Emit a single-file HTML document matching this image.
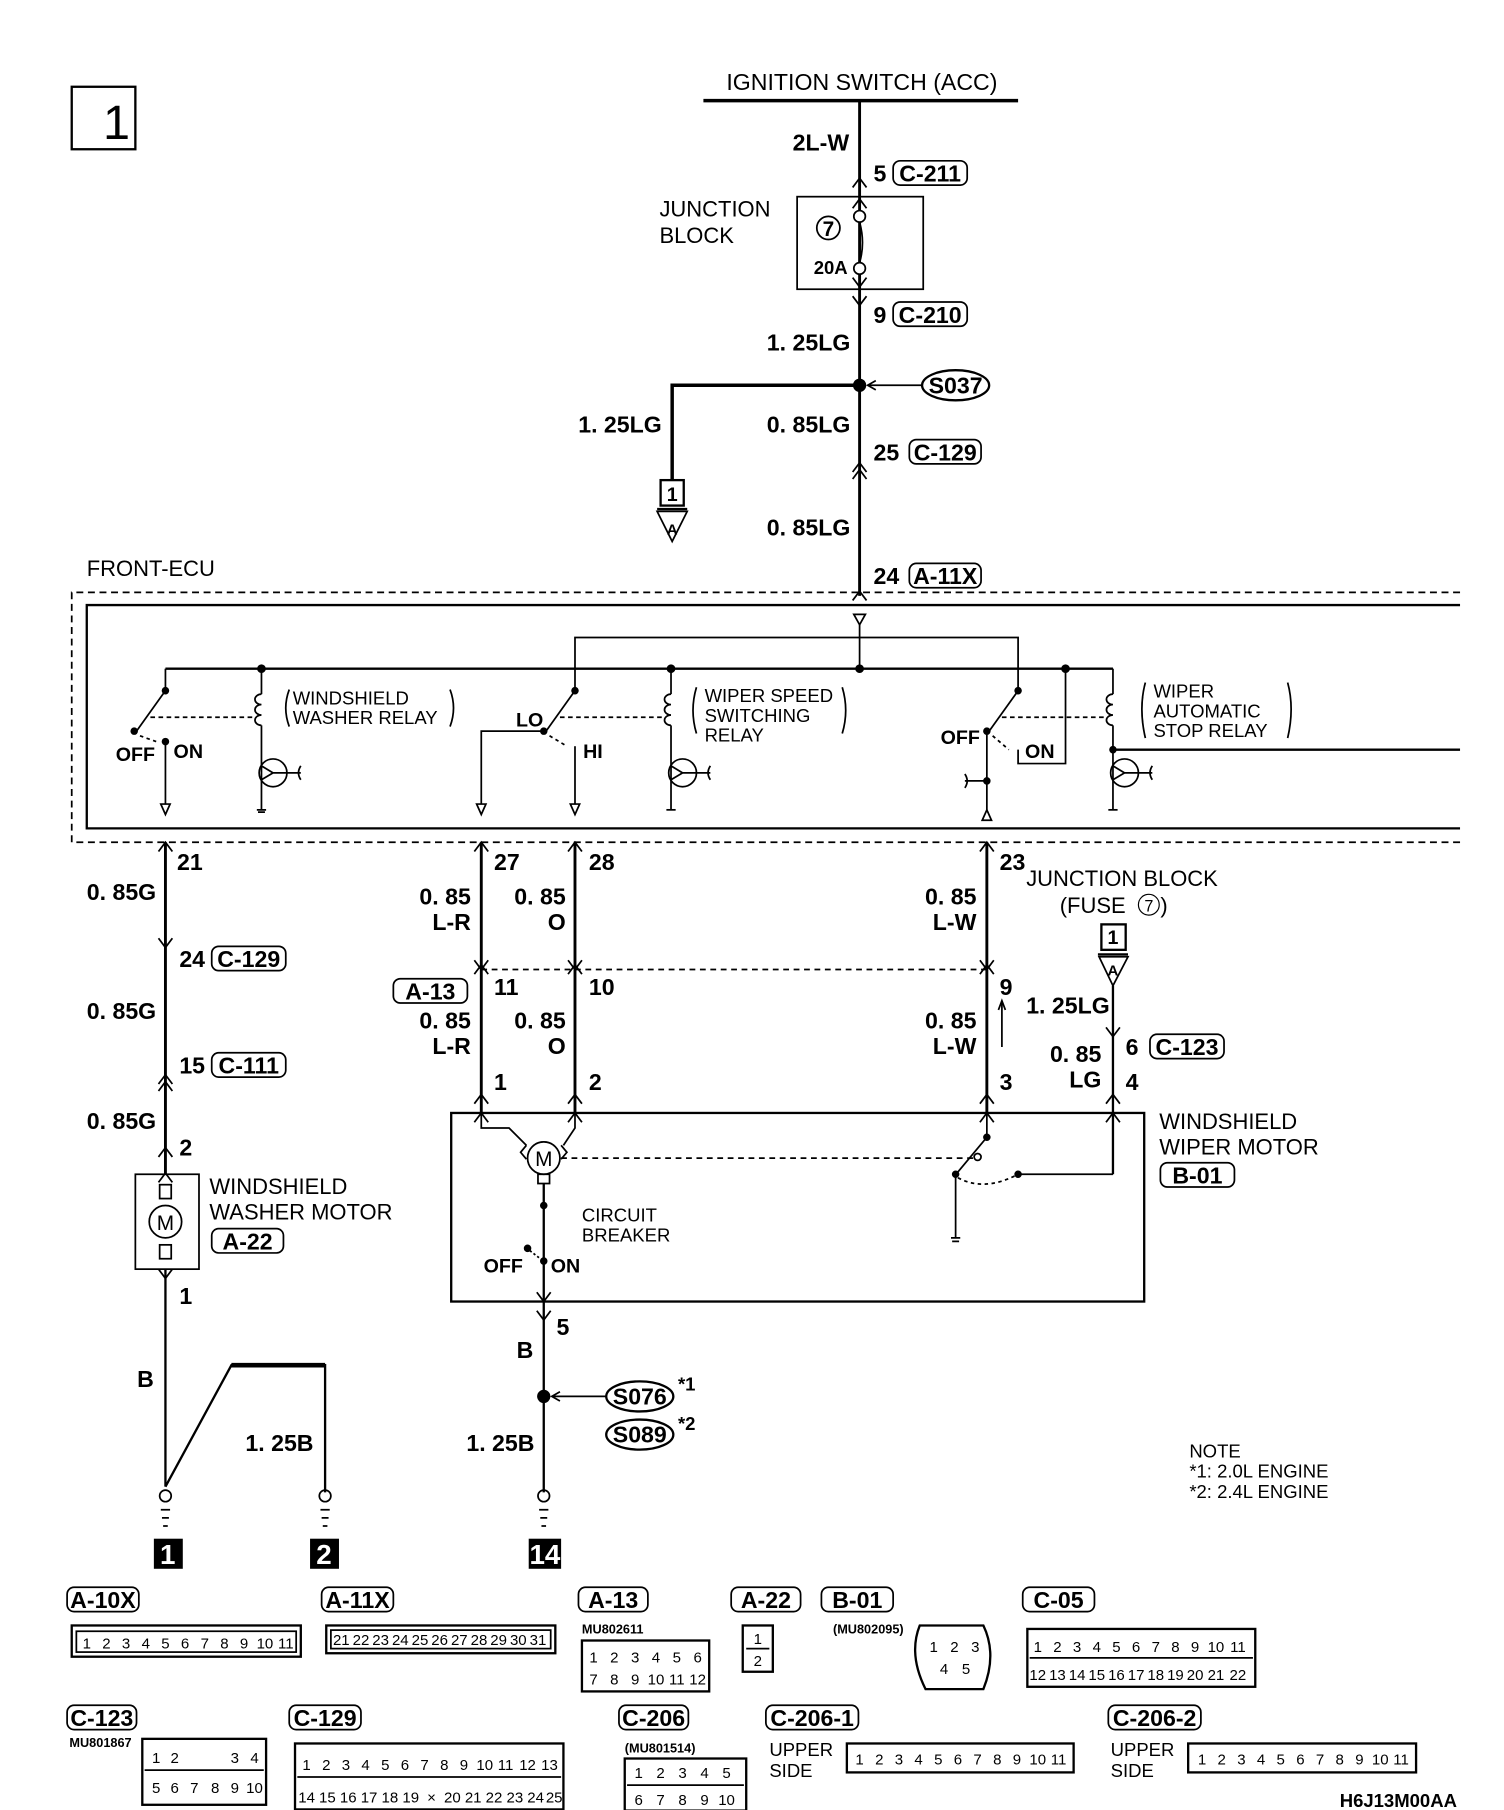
<!DOCTYPE html>
<html><head><meta charset="utf-8"><style>
html,body{margin:0;padding:0;background:#fff;}
svg{display:block;}
text{font-family:"Liberation Sans Narrow","Liberation Sans",sans-serif;fill:#000;}
.b{font-weight:bold;}
</style></head><body>
<svg width="1504" height="1810" viewBox="0 0 1300 1564.5" preserveAspectRatio="none" xmlns="http://www.w3.org/2000/svg">
<g fill="none" stroke="#000" stroke-width="1.5">
<rect x="62" y="75" width="55" height="54" stroke-width="2"/>
<line x1="608" y1="87" x2="880" y2="87" stroke-width="3"/>
<line x1="743" y1="87" x2="743" y2="515" stroke-width="2.5"/>
<rect x="689" y="170" width="109" height="80"/>
<circle cx="743" cy="187" r="5" fill="#fff"/>
<circle cx="743" cy="232" r="5" fill="#fff"/>
<path d="M743 192 Q748 210 743 227"/>
<circle cx="716" cy="197" r="10"/>
<polyline points="737,162 743,154 749,162"/>
<polyline points="737,180 743,172 749,180"/>
<polyline points="737,256 743,264 749,256"/>
<polyline points="737,240 743,248 749,240"/>
<polyline points="737,408 743,400 749,408"/>
<polyline points="737,414 743,406 749,414"/>
<polyline points="737,519 743,511 749,519"/>
<polyline points="743,333 581,333 581,415" stroke-width="3"/>
<circle cx="743" cy="333" r="5" fill="#000"/>
<line x1="750" y1="333" x2="797" y2="333"/>
<polyline points="757,329 750,333 757,337"/>
<ellipse cx="826" cy="333" rx="29" ry="13" stroke-width="2"/>
<rect x="571" y="415" width="20" height="22" stroke-width="2"/>
<polygon points="568,442 594,442 581,468"/>
<line x1="568" y1="440" x2="594" y2="440" stroke-width="2"/>
<polyline points="1262,512 62,512 62,728 1262,728" stroke-dasharray="6,4"/>
<polyline points="1262,523 75,523 75,716 1262,716" stroke-width="2"/>
<polygon points="738,531 748,531 743,540"/>
<line x1="743" y1="540" x2="743" y2="578"/>
<line x1="143" y1="578" x2="962" y2="578" stroke-width="2"/>
<polyline points="497,597 497,551 880,551 880,597" stroke-width="1.5"/>
<circle cx="226" cy="578" r="3" fill="#000"/><circle cx="743" cy="578" r="3" fill="#000"/><circle cx="580" cy="578" r="3" fill="#000"/><circle cx="921" cy="578" r="3" fill="#000"/>
<line x1="143" y1="578" x2="143" y2="597"/>
<circle cx="143" cy="597" r="2.5" fill="#000"/>
<line x1="143" y1="597" x2="118" y2="632"/>
<circle cx="116" cy="632" r="2.5" fill="#000"/>
<circle cx="143" cy="641" r="2.5" fill="#000"/>
<path d="M121 636 L135 641" stroke-dasharray="3,3"/>
<line x1="143" y1="641" x2="143" y2="695"/>
<polygon points="139,695 147,695 143,704"/>
<line x1="130" y1="620" x2="220" y2="620" stroke-dasharray="4,3"/>
<line x1="226" y1="578" x2="226" y2="600"/>
<path d="M226 600 a5 4 0 0 0 0 9 a5 4 0 0 0 0 9 a5 4 0 0 0 0 9 M226 627 L226 650"/>
<circle cx="236" cy="668" r="12"/>
<path d="M226 650 L226 700 M226 662 L236 668 L226 674 M236 668 L260 668 M260 662 Q256 668 260 674"/>
<path d="M222 700 L230 700 M223 702 L229 702"/>
<path d="M250 596 Q244 612 250 628 M389 596 Q395 612 389 628"/>
<circle cx="497" cy="597" r="2.5" fill="#000"/>
<line x1="497" y1="597" x2="472" y2="632"/>
<circle cx="470" cy="632" r="2.5" fill="#000"/>
<polyline points="470,632 416,632 416,695"/>
<polygon points="412,695 420,695 416,704"/>
<path d="M475 636 L490 645" stroke-dasharray="3,3"/>
<line x1="497" y1="645" x2="497" y2="695"/>
<polygon points="493,695 501,695 497,704"/>
<line x1="484" y1="620" x2="574" y2="620" stroke-dasharray="4,3"/>
<line x1="580" y1="578" x2="580" y2="600"/>
<path d="M580 600 a5 4 0 0 0 0 9 a5 4 0 0 0 0 9 a5 4 0 0 0 0 9 M580 627 L580 650"/>
<circle cx="590" cy="668" r="12"/>
<path d="M580 650 L580 700 M580 662 L590 668 L580 674 M590 668 L614 668 M614 662 Q610 668 614 674"/>
<path d="M576 700 L584 700"/>
<path d="M602 594 Q596 614 602 634 M728 594 Q734 614 728 634"/>
<circle cx="880" cy="597" r="2.5" fill="#000"/>
<line x1="880" y1="597" x2="855" y2="632"/>
<circle cx="853" cy="632" r="2.5" fill="#000"/>
<path d="M858 636 L872 648" stroke-dasharray="3,3"/>
<polyline points="880,648 880,660 921,660 921,578"/>
<line x1="853" y1="632" x2="853" y2="700"/>
<circle cx="853" cy="675" r="2.5" fill="#000"/>
<path d="M853 675 L834 675 M834 669 Q838 675 834 681"/>
<polygon points="849,709 857,709 853,700"/>
<line x1="866" y1="620" x2="956" y2="620" stroke-dasharray="4,3"/>
<line x1="962" y1="578" x2="962" y2="600"/>
<path d="M962 600 a5 4 0 0 0 0 9 a5 4 0 0 0 0 9 a5 4 0 0 0 0 9 M962 627 L962 650"/>
<circle cx="962" cy="648" r="2.5" fill="#000"/>
<line x1="962" y1="648" x2="1262" y2="648" stroke-width="2"/>
<circle cx="972" cy="668" r="12"/>
<path d="M962 650 L962 700 M962 662 L972 668 L962 674 M972 668 L996 668 M996 662 Q992 668 996 674"/>
<path d="M958 700 L966 700"/>
<path d="M990 590 Q984 612 990 638 M1113 590 Q1119 612 1113 638"/>
<line x1="143" y1="728" x2="143" y2="1015" stroke-width="2.5"/>
<line x1="416" y1="728" x2="416" y2="962" stroke-width="2.5"/>
<line x1="497" y1="728" x2="497" y2="962" stroke-width="2.5"/>
<line x1="853" y1="728" x2="853" y2="962" stroke-width="2.5"/>
<g>
<polyline points="137,736 143,728 149,736"/><polyline points="410,736 416,728 422,736"/><polyline points="491,736 497,728 503,736"/><polyline points="847,736 853,728 859,736"/>
<polyline points="137,811 143,819 149,811"/>
<polyline points="137,937 143,929 149,937"/><polyline points="137,943 143,935 149,943"/>
<polyline points="410,830 416,838 422,830"/><polyline points="410,842 416,834 422,842"/>
<polyline points="491,830 497,838 503,830"/><polyline points="491,842 497,834 503,842"/>
<polyline points="847,830 853,838 859,830"/><polyline points="847,842 853,834 859,842"/>
<polyline points="137,1000 143,992 149,1000"/><polyline points="137,1022 143,1014 149,1022"/>
<polyline points="410,970 416,962 422,970"/><polyline points="491,970 497,962 503,970"/><polyline points="847,970 853,962 859,970"/><polyline points="956,970 962,962 968,970"/>
<polyline points="410,954 416,946 422,954"/><polyline points="491,954 497,946 503,954"/><polyline points="847,954 853,946 859,954"/><polyline points="956,954 962,946 968,954"/>
<polyline points="956,888 962,896 968,888"/>
<polyline points="137,1097 143,1105 149,1097"/>
<polyline points="464,1117 470,1125 476,1117"/><polyline points="464,1133 470,1141 476,1133"/>
</g>
<line x1="416" y1="838" x2="853" y2="838" stroke-dasharray="5,4"/>
<line x1="866" y1="905" x2="866" y2="866"/>
<polyline points="863,873 866,865 869,873"/>
<rect x="952" y="799" width="21" height="22" stroke-width="2"/>
<line x1="949" y1="825" x2="975" y2="825" stroke-width="2"/>
<polygon points="950,827 975,827 962,852"/>
<line x1="962" y1="852" x2="962" y2="1015" stroke-width="2"/>
<rect x="117" y="1015" width="55" height="82"/>
<rect x="138" y="1024" width="10" height="12"/>
<rect x="138" y="1076" width="10" height="12"/>
<circle cx="143" cy="1056" r="14"/>
<line x1="143" y1="1097" x2="143" y2="1285" stroke-width="2"/>
<polyline points="143,1285 200,1180 281,1180 281,1290" stroke-width="2"/>
<line x1="200" y1="1180" x2="281" y2="1180" stroke-width="4"/>
<rect x="390" y="962" width="599" height="163" stroke-width="2"/>
<polyline points="416,962 416,975 440,975 455,990"/>
<polyline points="497,962 497,975 487,990"/>
<path d="M455 990 l-5 6 l5 6 M485 990 l5 6 l-5 6"/>
<circle cx="470" cy="1001" r="14"/>
<rect x="465" y="1015" width="10" height="8"/>
<line x1="485" y1="1001" x2="845" y2="1001" stroke-dasharray="5,4"/>
<line x1="853" y1="962" x2="853" y2="983"/>
<circle cx="853" cy="983" r="2.5" fill="#000"/>
<line x1="853" y1="983" x2="828" y2="1013"/>
<circle cx="845" cy="1000" r="3"/>
<circle cx="826" cy="1015" r="2.5" fill="#000"/>
<path d="M828 1018 Q850 1030 878 1016" stroke-dasharray="3,3"/>
<circle cx="880" cy="1015" r="2.5" fill="#000"/>
<polyline points="880,1015 962,1015"/>
<line x1="826" y1="1015" x2="826" y2="1070"/>
<path d="M822 1070 L830 1070 M823 1073 L829 1073"/>
<line x1="470" y1="1023" x2="470" y2="1290" stroke-width="2"/>
<circle cx="470" cy="1042" r="2.5" fill="#000"/>
<circle cx="456" cy="1079" r="2.5" fill="#000"/>
<circle cx="470" cy="1090" r="2.5" fill="#000"/>
<path d="M458 1081 L467 1088" stroke-dasharray="2,2"/>
<circle cx="470" cy="1207" r="5" fill="#000"/>
<line x1="477" y1="1207" x2="524" y2="1207"/>
<polyline points="484,1203 477,1207 484,1211"/>
<ellipse cx="553" cy="1207" rx="29" ry="13" stroke-width="2"/>
<ellipse cx="553" cy="1240" rx="29" ry="13" stroke-width="2"/>
<circle cx="143" cy="1293" r="5"/><circle cx="281" cy="1293" r="5"/><circle cx="470" cy="1293" r="5"/>
<path d="M139 1305 h8 M140 1312 h6 M141 1319 h4 M277 1305 h8 M278 1312 h6 M279 1319 h4 M466 1305 h8 M467 1312 h6 M468 1319 h4"/>
</g>
<text x="143" y="1063" font-size="18" text-anchor="middle">M</text>
<text x="470" y="1008" font-size="18" text-anchor="middle">M</text>
<rect x="133" y="1330" width="25" height="26" fill="#000"/>
<rect x="268" y="1330" width="25" height="26" fill="#000"/>
<rect x="457" y="1330" width="28" height="26" fill="#000"/>
<text x="145" y="1352" font-size="24" text-anchor="middle" class="b" style="fill:#fff">1</text>
<text x="280" y="1352" font-size="24" text-anchor="middle" class="b" style="fill:#fff">2</text>
<text x="471" y="1352" font-size="24" text-anchor="middle" class="b" style="fill:#fff">14</text>
<g fill="none" stroke="#000" stroke-width="1.5">
<rect x="772" y="139" width="64" height="21" rx="6"/>
<rect x="772" y="261" width="64" height="21" rx="6"/>
<rect x="786" y="380" width="62" height="21" rx="6"/>
<rect x="786" y="487" width="62" height="21" rx="6"/>
<rect x="183" y="818" width="64" height="21" rx="6"/>
<rect x="183" y="910" width="64" height="21" rx="6"/>
<rect x="183" y="1062" width="62" height="21" rx="6"/>
<rect x="340" y="846" width="64" height="21" rx="6"/>
<rect x="994" y="894" width="64" height="21" rx="6"/>
<rect x="1003" y="1005" width="64" height="21" rx="6"/>
</g>
<g font-size="20" class="b">
<text x="804" y="157" text-anchor="middle">C-211</text>
<text x="804" y="279" text-anchor="middle">C-210</text>
<text x="817" y="398" text-anchor="middle">C-129</text>
<text x="817" y="505" text-anchor="middle">A-11X</text>
<text x="215" y="836" text-anchor="middle">C-129</text>
<text x="215" y="928" text-anchor="middle">C-111</text>
<text x="214" y="1080" text-anchor="middle">A-22</text>
<text x="372" y="864" text-anchor="middle">A-13</text>
<text x="1026" y="912" text-anchor="middle">C-123</text>
<text x="1035" y="1023" text-anchor="middle">B-01</text>
<text x="826" y="340" text-anchor="middle">S037</text>
<text x="553" y="1214" text-anchor="middle">S076</text>
<text x="553" y="1247" text-anchor="middle">S089</text>
</g>
<text x="89" y="120" font-size="42">1</text>
<text x="745" y="78" font-size="20" text-anchor="middle">IGNITION SWITCH (ACC)</text>
<g font-size="20" class="b">
<text x="734" y="130" text-anchor="end">2L-W</text>
<text x="755" y="157">5</text>
<text x="755" y="279">9</text>
<text x="735" y="303" text-anchor="end">1. 25LG</text>
<text x="572" y="374" text-anchor="end">1. 25LG</text>
<text x="735" y="374" text-anchor="end">0. 85LG</text>
<text x="755" y="398">25</text>
<text x="735" y="463" text-anchor="end">0. 85LG</text>
<text x="755" y="505">24</text>
<text x="581" y="433" text-anchor="middle" font-size="17">1</text>
<text x="581" y="462" text-anchor="middle" font-size="13">A</text>
<text x="716" y="204" text-anchor="middle" font-size="18">7</text>
<text x="718" y="237" text-anchor="middle" font-size="16">20A</text>
<text x="100" y="658" font-size="17">OFF</text><text x="150" y="655" font-size="17">ON</text>
<text x="446" y="628" font-size="17">LO</text><text x="504" y="655" font-size="17">HI</text>
<text x="813" y="643" font-size="17">OFF</text><text x="886" y="655" font-size="17">ON</text>
<text x="153" y="752">21</text><text x="135" y="778" text-anchor="end">0. 85G</text>
<text x="155" y="836">24</text><text x="135" y="881" text-anchor="end">0. 85G</text>
<text x="155" y="928">15</text><text x="135" y="976" text-anchor="end">0. 85G</text>
<text x="155" y="999">2</text><text x="155" y="1127">1</text>
<text x="133" y="1199" text-anchor="end">B</text>
<text x="271" y="1254" text-anchor="end">1. 25B</text>
<text x="427" y="752">27</text><text x="509" y="752">28</text><text x="864" y="752">23</text>
<text x="407" y="782" text-anchor="end">0. 85</text><text x="407" y="804" text-anchor="end">L-R</text>
<text x="489" y="782" text-anchor="end">0. 85</text><text x="489" y="804" text-anchor="end">O</text>
<text x="844" y="782" text-anchor="end">0. 85</text><text x="844" y="804" text-anchor="end">L-W</text>
<text x="427" y="860">11</text><text x="509" y="860">10</text><text x="864" y="860">9</text>
<text x="407" y="889" text-anchor="end">0. 85</text><text x="407" y="911" text-anchor="end">L-R</text>
<text x="489" y="889" text-anchor="end">0. 85</text><text x="489" y="911" text-anchor="end">O</text>
<text x="844" y="889" text-anchor="end">0. 85</text><text x="844" y="911" text-anchor="end">L-W</text>
<text x="427" y="942">1</text><text x="509" y="942">2</text><text x="864" y="942">3</text>
<text x="887" y="876">1. 25LG</text>
<text x="973" y="912">6</text><text x="973" y="942">4</text>
<text x="952" y="918" text-anchor="end">0. 85</text><text x="952" y="940" text-anchor="end">LG</text>
<text x="962" y="816" text-anchor="middle" font-size="17">1</text>
<text x="962" y="843" text-anchor="middle" font-size="13">A</text>
<text x="481" y="1154">5</text><text x="461" y="1174" text-anchor="end">B</text>
<text x="462" y="1254" text-anchor="end">1. 25B</text>
<text x="418" y="1100" font-size="17">OFF</text><text x="476" y="1100" font-size="17">ON</text>
<text x="586" y="1202" font-size="16">*1</text><text x="586" y="1236" font-size="16">*2</text>
</g>
<g font-size="19">
<text x="570" y="187">JUNCTION</text><text x="570" y="210">BLOCK</text>
<text x="75" y="498">FRONT-ECU</text>
<text x="253" y="609" font-size="16">WINDSHIELD</text><text x="253" y="626" font-size="16">WASHER RELAY</text>
<text x="609" y="607" font-size="16">WIPER SPEED</text><text x="609" y="624" font-size="16">SWITCHING</text><text x="609" y="641" font-size="16">RELAY</text>
<text x="997" y="603" font-size="16">WIPER</text><text x="997" y="620" font-size="16">AUTOMATIC</text><text x="997" y="637" font-size="16">STOP RELAY</text>
<text x="887" y="766">JUNCTION BLOCK</text>
<text x="916" y="789">(FUSE</text><circle cx="993" cy="782" r="9" fill="none" stroke="#000"/><text x="993" y="788" font-size="14" text-anchor="middle">7</text><text x="1003" y="789">)</text>
<text x="181" y="1032">WINDSHIELD</text><text x="181" y="1054">WASHER MOTOR</text>
<text x="1002" y="976">WINDSHIELD</text><text x="1002" y="998">WIPER MOTOR</text>
<text x="503" y="1056" font-size="16">CIRCUIT</text><text x="503" y="1073" font-size="16">BREAKER</text>
<text x="1028" y="1260" font-size="16">NOTE</text>
<text x="1028" y="1277" font-size="16">*1: 2.0L ENGINE</text>
<text x="1028" y="1295" font-size="16">*2: 2.4L ENGINE</text>
<text x="1158" y="1562" font-size="16" class="b">H6J13M00AA</text>
</g>
<g fill="none" stroke="#000" stroke-width="1.5">
<rect x="58" y="1372" width="62" height="21" rx="6"/>
<rect x="278" y="1372" width="62" height="21" rx="6"/>
<rect x="500" y="1372" width="60" height="21" rx="6"/>
<rect x="632" y="1372" width="60" height="21" rx="6"/>
<rect x="710" y="1372" width="62" height="21" rx="6"/>
<rect x="884" y="1372" width="62" height="21" rx="6"/>
<rect x="58" y="1474" width="60" height="21" rx="6"/>
<rect x="250" y="1474" width="62" height="21" rx="6"/>
<rect x="535" y="1474" width="60" height="21" rx="6"/>
<rect x="662" y="1474" width="80" height="21" rx="6"/>
<rect x="958" y="1474" width="80" height="21" rx="6"/>
<rect x="62" y="1405" width="198" height="27" stroke-width="2"/>
<rect x="66" y="1410" width="190" height="18"/>
<rect x="282" y="1405" width="198" height="24" stroke-width="2"/>
<rect x="286" y="1409" width="190" height="16"/>
<rect x="503" y="1418" width="110" height="44" stroke-width="2"/>
<rect x="642" y="1405" width="26" height="40" stroke-width="2"/>
<line x1="645" y1="1425" x2="665" y2="1425"/>
<path d="M795 1405 L850 1405 Q862 1430 850 1460 L800 1460 Q785 1430 795 1405 Z" stroke-width="2"/>
<rect x="888" y="1408" width="197" height="50" stroke-width="2"/>
<line x1="890" y1="1433" x2="1083" y2="1433"/>
<rect x="123" y="1503" width="107" height="57" stroke-width="2"/>
<line x1="125" y1="1530" x2="228" y2="1530"/>
<rect x="255" y="1507" width="232" height="57" stroke-width="2"/>
<line x1="257" y1="1536" x2="485" y2="1536"/>
<rect x="540" y="1520" width="105" height="45" stroke-width="2"/>
<line x1="542" y1="1543" x2="643" y2="1543"/>
<rect x="732" y="1507" width="196" height="25" stroke-width="2"/>
<rect x="1027" y="1507" width="197" height="25" stroke-width="2"/>
</g>
<g font-size="20" class="b">
<text x="89" y="1390" text-anchor="middle">A-10X</text>
<text x="309" y="1390" text-anchor="middle">A-11X</text>
<text x="530" y="1390" text-anchor="middle">A-13</text>
<text x="662" y="1390" text-anchor="middle">A-22</text>
<text x="741" y="1390" text-anchor="middle">B-01</text>
<text x="915" y="1390" text-anchor="middle">C-05</text>
<text x="88" y="1492" text-anchor="middle">C-123</text>
<text x="281" y="1492" text-anchor="middle">C-129</text>
<text x="565" y="1492" text-anchor="middle">C-206</text>
<text x="702" y="1492" text-anchor="middle">C-206-1</text>
<text x="998" y="1492" text-anchor="middle">C-206-2</text>
</g>
<g font-size="11" class="b">
<text x="503" y="1412">MU802611</text>
<text x="720" y="1412">(MU802095)</text>
<text x="60" y="1510">MU801867</text>
<text x="540" y="1515">(MU801514)</text>
</g>
<g font-size="16">
<text x="665" y="1518">UPPER</text><text x="665" y="1536">SIDE</text>
<text x="960" y="1518">UPPER</text><text x="960" y="1536">SIDE</text>
</g>
<g font-size="13" text-anchor="middle">
<text x="75" y="1425">1</text><text x="92" y="1425">2</text><text x="109" y="1425">3</text><text x="126" y="1425">4</text><text x="143" y="1425">5</text><text x="160" y="1425">6</text><text x="177" y="1425">7</text><text x="194" y="1425">8</text><text x="211" y="1425">9</text><text x="229" y="1425">10</text><text x="247" y="1425">11</text>
<text x="295" y="1422">21</text><text x="312" y="1422">22</text><text x="329" y="1422">23</text><text x="346" y="1422">24</text><text x="363" y="1422">25</text><text x="380" y="1422">26</text><text x="397" y="1422">27</text><text x="414" y="1422">28</text><text x="431" y="1422">29</text><text x="448" y="1422">30</text><text x="465" y="1422">31</text>
<text x="513" y="1437">1</text><text x="531" y="1437">2</text><text x="549" y="1437">3</text><text x="567" y="1437">4</text><text x="585" y="1437">5</text><text x="603" y="1437">6</text>
<text x="513" y="1456">7</text><text x="531" y="1456">8</text><text x="549" y="1456">9</text><text x="567" y="1456">10</text><text x="585" y="1456">11</text><text x="603" y="1456">12</text>
<text x="655" y="1421">1</text><text x="655" y="1440">2</text>
<text x="807" y="1428">1</text><text x="825" y="1428">2</text><text x="843" y="1428">3</text><text x="816" y="1447">4</text><text x="835" y="1447">5</text>
<text x="897" y="1428">1</text><text x="914" y="1428">2</text><text x="931" y="1428">3</text><text x="948" y="1428">4</text><text x="965" y="1428">5</text><text x="982" y="1428">6</text><text x="999" y="1428">7</text><text x="1016" y="1428">8</text><text x="1033" y="1428">9</text><text x="1051" y="1428">10</text><text x="1070" y="1428">11</text>
<text x="897" y="1452">12</text><text x="914" y="1452">13</text><text x="931" y="1452">14</text><text x="948" y="1452">15</text><text x="965" y="1452">16</text><text x="982" y="1452">17</text><text x="999" y="1452">18</text><text x="1016" y="1452">19</text><text x="1033" y="1452">20</text><text x="1051" y="1452">21</text><text x="1070" y="1452">22</text>
<text x="135" y="1524">1</text><text x="151" y="1524">2</text><text x="203" y="1524">3</text><text x="220" y="1524">4</text>
<text x="135" y="1550">5</text><text x="151" y="1550">6</text><text x="168" y="1550">7</text><text x="186" y="1550">8</text><text x="203" y="1550">9</text><text x="220" y="1550">10</text>
<text x="265" y="1530">1</text><text x="282" y="1530">2</text><text x="299" y="1530">3</text><text x="316" y="1530">4</text><text x="333" y="1530">5</text><text x="350" y="1530">6</text><text x="367" y="1530">7</text><text x="384" y="1530">8</text><text x="401" y="1530">9</text><text x="419" y="1530">10</text><text x="437" y="1530">11</text><text x="456" y="1530">12</text><text x="475" y="1530">13</text>
<text x="265" y="1558">14</text><text x="283" y="1558">15</text><text x="301" y="1558">16</text><text x="319" y="1558">17</text><text x="337" y="1558">18</text><text x="355" y="1558">19</text><text x="373" y="1558">×</text><text x="391" y="1558">20</text><text x="409" y="1558">21</text><text x="427" y="1558">22</text><text x="445" y="1558">23</text><text x="463" y="1558">24</text><text x="479" y="1558">25</text>
<text x="552" y="1537">1</text><text x="571" y="1537">2</text><text x="590" y="1537">3</text><text x="609" y="1537">4</text><text x="628" y="1537">5</text>
<text x="552" y="1560">6</text><text x="571" y="1560">7</text><text x="590" y="1560">8</text><text x="609" y="1560">9</text><text x="628" y="1560">10</text>
<text x="743" y="1525">1</text><text x="760" y="1525">2</text><text x="777" y="1525">3</text><text x="794" y="1525">4</text><text x="811" y="1525">5</text><text x="828" y="1525">6</text><text x="845" y="1525">7</text><text x="862" y="1525">8</text><text x="879" y="1525">9</text><text x="897" y="1525">10</text><text x="915" y="1525">11</text>
<text x="1039" y="1525">1</text><text x="1056" y="1525">2</text><text x="1073" y="1525">3</text><text x="1090" y="1525">4</text><text x="1107" y="1525">5</text><text x="1124" y="1525">6</text><text x="1141" y="1525">7</text><text x="1158" y="1525">8</text><text x="1175" y="1525">9</text><text x="1193" y="1525">10</text><text x="1211" y="1525">11</text>
</g>
</svg>
</body></html>
